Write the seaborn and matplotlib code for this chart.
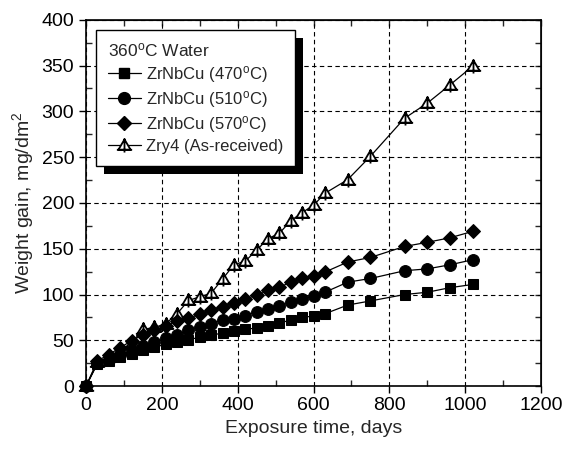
import numpy as np
import pandas as pd
import matplotlib
matplotlib.use("Agg")
import matplotlib.pyplot as plt
import matplotlib.patheffects as pe
from matplotlib.path import Path
from matplotlib.lines import Line2D
import seaborn as sns

# =========================
# DATA
# =========================
days = [0, 30, 60, 90, 120, 150, 180, 210, 240, 270, 300, 330, 360, 390, 420,
        450, 480, 510, 540, 570, 600, 630, 690, 750, 840, 900, 960, 1020]

zrnbcu_470 = [0, 24.5, 27, 31.5, 35.5, 39, 42.5, 45.5, 48, 50.5, 53.5, 55.5, 58, 60, 62,
              63.5, 66, 69, 72, 75, 76.5, 79, 88.5, 93, 100, 102.5, 107.5, 111]
zrnbcu_510 = [0, 25, 29, 34, 39, 44, 48, 52, 56, 61, 65, 68, 72, 73.5, 77,
              81, 84.5, 87, 92, 95, 98.5, 102.5, 113.5, 117.5, 126, 128, 132.5, 138]
zrnbcu_570 = [0, 27.5, 34.5, 42, 49.5, 56, 61, 66, 71, 74, 78.5, 83, 86.5, 91, 95.5,
              99, 104.5, 108, 113.5, 118, 120, 124.5, 135.5, 140.5, 152.5, 157, 162, 169]
zry4 = [0, 26, 32, 39, 47, 62, 64, 68, 79, 93.5, 97.5, 101.5, 117, 132.5, 136.5,
        148.5, 161, 167, 180.5, 189.5, 197.5, 210.5, 225.5, 251, 292.5, 309, 329, 349.5]

labels = ["ZrNbCu (470$^\\mathrm{o}$C)", "ZrNbCu (510$^\\mathrm{o}$C)",
          "ZrNbCu (570$^\\mathrm{o}$C)", "Zry4 (As-received)"]

# triangle with a cross through it
tri_cross = Path(
    [(-1, -0.7), (0, 1), (1, -0.7), (-1, -0.7), (0, 1.15), (0, -1.15), (-1.25, -0.7), (1.25, -0.7)],
    [Path.MOVETO, Path.LINETO, Path.LINETO, Path.CLOSEPOLY, Path.MOVETO, Path.LINETO, Path.MOVETO, Path.LINETO],
)

# =========================
# PLOT
# =========================
sns.set_style("ticks")
plt.rcParams["font.family"] = ["Liberation Sans", "DejaVu Sans"]
plt.rcParams["mathtext.fontset"] = "custom"
plt.rcParams["mathtext.rm"] = "Liberation Sans"
plt.rcParams["mathtext.it"] = "Liberation Sans:italic"

fig = plt.figure(figsize=(5.66, 4.5), dpi=100)
ax = fig.add_axes([0.152, 0.142, 0.804, 0.814])

# Zry4 first so the alloy markers sit on top of it early on
sns.lineplot(x=days, y=zry4, ax=ax, color="black", lw=0.9, marker=tri_cross,
             markersize=11, markerfacecolor="white", markeredgecolor="black",
             markeredgewidth=1.3, estimator=None, sort=False, zorder=3)

series = [
    (zrnbcu_470, "s", 7.5),
    (zrnbcu_510, "o", 8.5),
    (zrnbcu_570, "D", 7.5),
]
for vals, mk, ms in series:
    sns.lineplot(x=days, y=vals, ax=ax, color="black", lw=0.9, marker=mk,
                 markersize=ms, markerfacecolor="black", markeredgecolor="black",
                 estimator=None, sort=False, zorder=4)

ax.set_xlim(0, 1200)
ax.set_ylim(0, 400)
ax.set_xticks(range(0, 1201, 200))
ax.set_yticks(range(0, 401, 50))
ax.set_xticks(range(100, 1200, 200), minor=True)
ax.set_yticks(range(25, 400, 50), minor=True)
ax.tick_params(which="major", direction="out", length=5, width=1, labelsize=14, colors="black")
ax.tick_params(which="minor", direction="in", length=4, width=1)
ax.tick_params(axis="x", pad=3)
for s in ax.spines.values():
    s.set_linewidth(1.2)
    s.set_color("black")

# top / right ticks pointing inward
top = ax.secondary_xaxis("top")
top.set_xticks(range(0, 1201, 100))
top.tick_params(direction="in", length=4, width=1, labeltop=False)
right = ax.secondary_yaxis("right")
right.set_yticks(range(0, 401, 25))
right.tick_params(direction="in", length=4, width=1, labelright=False)

ax.grid(True, which="major", color="black", linestyle=(0, (4, 3)), linewidth=0.8)
ax.set_axisbelow(True)
for ln in ax.lines:
    ln.set_clip_on(False)

ax.set_xlabel("Exposure time, days", fontsize=14)
ax.set_ylabel("Weight gain, mg/dm$^2$", fontsize=14)

handles = [
    Line2D([], [], color="black", lw=0.9, marker="s", ms=7.5, mfc="black"),
    Line2D([], [], color="black", lw=0.9, marker="o", ms=8.5, mfc="black"),
    Line2D([], [], color="black", lw=0.9, marker="D", ms=7.5, mfc="black"),
    Line2D([], [], color="black", lw=0.9, marker=tri_cross, ms=11, mfc="white", mew=1.3),
]
leg = ax.legend(handles, labels, title="360$^\\mathrm{o}$C Water", loc="upper left",
                bbox_to_anchor=(0.022, 0.973), borderaxespad=0,
                fontsize=12, title_fontsize=12.5,
                frameon=True, fancybox=False, edgecolor="black", framealpha=1,
                handlelength=2.0, handletextpad=0.3, labelspacing=0.25,
                borderpad=0.7, alignment="left")
leg.get_frame().set_linewidth(1.0)
leg.get_frame().set_path_effects([
    pe.SimplePatchShadow(offset=(6, -6), shadow_rgbFace="black", alpha=1),
    pe.Normal(),
])
leg.set_zorder(10)

fig.savefig("out.png", dpi=100)
